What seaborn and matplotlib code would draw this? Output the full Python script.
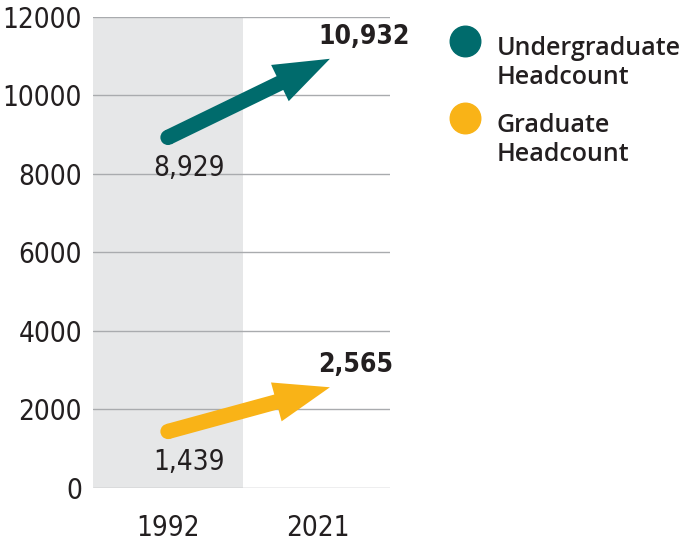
import matplotlib
matplotlib.use("Agg")
import matplotlib.pyplot as plt
from matplotlib.lines import Line2D
import seaborn as sns
import pandas as pd

years = ["1992", "2021"]
series = ["Undergraduate\nHeadcount", "Graduate\nHeadcount"]
undergrad = [8929, 10932]
graduate = [1439, 2565]
colors = ["#006b6c", "#f9b317"]

sns.set_style("white")
plt.rcParams["font.family"] = ["DejaVu Sans"]
plt.rcParams["font.stretch"] = "condensed"

fig = plt.figure(figsize=(6.84, 5.44), dpi=100)
ax = fig.add_axes([0.136, 0.103, 0.434, 0.866])

# grey band behind 1992
ax.axvspan(-0.5, 0.5, color="#e6e7e8", zorder=0, lw=0)
for y in range(0, 12001, 2000):
    ax.axhline(y, color="#a9abae", lw=1, zorder=1)

df = pd.DataFrame({"year": [0, 0], "value": [undergrad[0], graduate[0]],
                   "series": series})
sns.scatterplot(data=df, x="year", y="value", hue="series", palette=colors,
                s=120, linewidth=0, legend=False, zorder=3, ax=ax)

for vals, c in zip([undergrad, graduate], colors):
    ax.annotate("", xy=(1.08, vals[1]), xytext=(0, vals[0]),
                arrowprops=dict(arrowstyle="simple,head_width=1.45,head_length=2.0,tail_width=0.55",
                                mutation_scale=20, color=c, shrinkA=0, shrinkB=0, lw=0),
                zorder=3)
    ax.annotate(f"{vals[0]:,}", xy=(0.14, vals[0]), xytext=(0, -22),
                textcoords="offset points", ha="center", va="center",
                fontsize=20, color="#231f20", zorder=4)
    ax.annotate(f"{vals[1]:,}", xy=(1.0, vals[1]), xytext=(0, 16),
                textcoords="offset points", ha="left", va="center",
                fontsize=19, fontweight="bold", color="#231f20", zorder=4)

ax.set_xlim(-0.5, 1.48)
ax.set_ylim(0, 12000)
ax.set_xticks([0, 1], years)
ax.set_yticks(range(0, 12001, 2000))
ax.tick_params(length=0, labelsize=20, colors="#231f20")
ax.tick_params(axis="x", pad=19)
ax.tick_params(axis="y", pad=8)
sns.despine(ax=ax, left=True, bottom=True)

# legend drawn by hand so each dot sits on the first line of its label
for i, (name, c) in enumerate(zip(series, colors)):
    y0 = 0.8456 - i * 0.1415
    fig.add_artist(Line2D([0.6798], [y0 + 0.079], marker="o", ls="", markersize=22,
                          color=c, transform=fig.transFigure))
    fig.text(0.7266, y0, name, ha="left", va="baseline", linespacing=1.2,
             family="Open Sans", fontweight="semibold", fontsize=18,
             fontstretch="normal", color="#231f20")

fig.savefig("out.png", dpi=100)
